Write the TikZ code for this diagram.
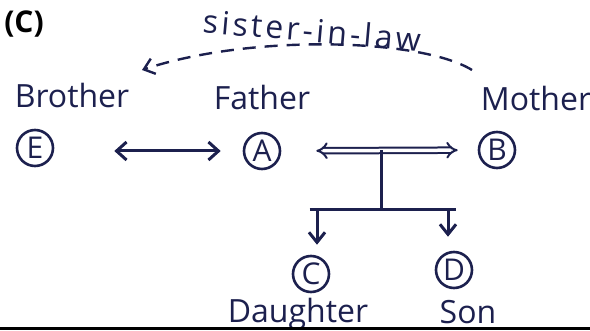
\documentclass[tikz,border=0pt]{standalone}
\usepackage{fontspec}
\setmainfont{Open Sans}
\usetikzlibrary{arrows.meta,calc,positioning}
\definecolor{ink}{RGB}{28,32,78}

\begin{document}
\begin{tikzpicture}[x=1pt,y=-1pt,line width=3pt,color=ink,
  person/.style={draw,circle,minimum size=36pt,inner sep=0pt,line width=2.6pt,font=\fontsize{30}{32}\selectfont},
  role/.style={font=\fontsize{32}{34}\selectfont},
  link/.style={-{Straight Barb[length=10pt,width=16pt]}}]
\useasboundingbox (0,0) rectangle (590,331);
\node[font=\fontsize{30}{32}\selectfont\bfseries,text=black] (tag) at (24,24) {(C)};
% people
\node[person] (E) at (35,148) {E};
\node[person] (A) at (262,151) {A};
\node[person] (B) at (497,150) {B};
\node[person] (C) at (311,274) {C};
\node[person] (D) at (454,270) {D};
% labels
\node[role] (brother) at (72,96) {Brother};
\node[role] (father) at (262,98) {Father};
\node[role] (mother) at (536,99) {Mother};
\node[role] (daughter) at (298,314) {Daughter};
\node[role] (son) at (468,312) {Son};
% links
\draw[{Straight Barb[length=10pt,width=18pt]}-{Straight Barb[length=10pt,width=18pt]},
  shorten <=60pt,shorten >=22pt] (E.east |- A) -- (A);
\draw[double,double distance=3.5pt,line width=2pt,
  {Implies[length=9pt]}-{Implies[length=9pt]},shorten <=35pt,shorten >=20pt] (A) -- (B);
\coordinate (top) at ($(A.east)!0.5!(B.west)+(2,0)$);
\coordinate (joint) at (top |- 0,210);
\draw (top) -- (joint);
\draw ([xshift=-1.5pt]C |- joint) -- ([xshift=1.5pt]D.center |- joint);
\draw[link,shorten >=10pt] ([xshift=6pt]C |- joint) -- ([xshift=6pt]C.north);
\draw[link,shorten >=14pt] ([xshift=-6pt]D |- joint) -- ([xshift=-6pt]D.north);
% in-law
\coordinate (inlaw start) at (472,70);
\coordinate (inlaw end) at (142,70);
\draw[dash pattern=on 13pt off 9pt,link,line width=2.4pt]
  (inlaw start) .. controls (420,38) and (250,34) .. (inlaw end);
\node[font=\fontsize{32}{34}\selectfont\addfontfeature{LetterSpace=10},rotate=-5] (inlaw) at (312,30) {sister-in-law};
\draw[line width=3pt,black] (0,329) -- (590,329);
\end{tikzpicture}
\end{document}
